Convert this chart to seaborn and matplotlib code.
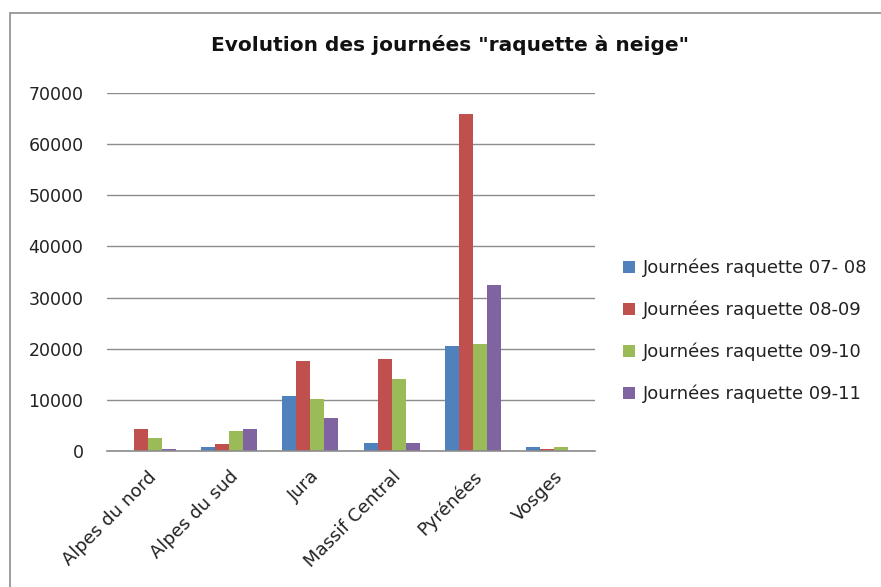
import matplotlib
matplotlib.use("Agg")
import matplotlib.pyplot as plt
import seaborn as sns
import pandas as pd
from matplotlib.patches import Rectangle

categories = ["Alpes du nord", "Alpes du sud", "Jura", "Massif Central", "Pyrénées", "Vosges"]
series_names = ["Journées raquette 07- 08", "Journées raquette 08-09",
                "Journées raquette 09-10", "Journées raquette 09-11"]
s0708 = [0, 850, 10750, 1650, 20600, 850]
s0809 = [4250, 1300, 17550, 17950, 65900, 450]
s0910 = [2600, 3850, 10250, 14150, 20900, 850]
s0911 = [450, 4250, 6450, 1650, 32450, 0]
colors = ["#4F81BD", "#C0504D", "#9BBB59", "#8064A2"]
yticks = [0, 10000, 20000, 30000, 40000, 50000, 60000, 70000]

rows = []
for name, vals in zip(series_names, [s0708, s0809, s0910, s0911]):
    for c, v in zip(categories, vals):
        rows.append({"region": c, "serie": name, "val": v})
df = pd.DataFrame(rows)

sns.set_theme(style="white")
plt.rcParams["font.family"] = ["DejaVu Sans"]

fig = plt.figure(figsize=(8.81, 5.87), dpi=100)
ax = fig.add_axes([107/881, 1-451/587, (595-107)/881, (451-93)/587])

sns.barplot(data=df, x="region", y="val", hue="serie", order=categories,
            hue_order=series_names, palette=colors, width=0.69,
            saturation=1, ax=ax, errorbar=None, edgecolor="none")

ax.set_ylim(0, 70000)
ax.set_yticks(yticks)
ax.set_yticklabels([str(t) for t in yticks], fontsize=12.5, color="#222222")
ax.tick_params(axis="y", length=0, pad=17)
ax.tick_params(axis="x", length=0, pad=12)
ax.set_xticks(range(len(categories)))
ax.set_xticklabels(categories, rotation=45, ha="right", rotation_mode="anchor",
                   fontsize=13, color="#222222")
ax.set_xlim(-0.5, 5.5)
ax.yaxis.grid(True, color="#8c8c8c", linewidth=1)
ax.set_axisbelow(True)
for s in ["left", "right", "top"]:
    ax.spines[s].set_visible(False)
ax.spines["bottom"].set_color("#8c8c8c")
ax.spines["bottom"].set_linewidth(1.2)
ax.set_xlabel("")
ax.set_ylabel("")

fig.text(450/881, 1-45/587, 'Evolution des journées "raquette à neige"',
         ha="center", va="center", fontsize=14.5, fontweight="bold", color="#111111")

leg = ax.legend(loc="center left", bbox_to_anchor=(1.024, 0.335), frameon=False,
                fontsize=13, handlelength=0.65, handleheight=0.65,
                handletextpad=0.45, labelspacing=1.3)
for t in leg.get_texts():
    t.set_color("#222222")

fig.patches.append(Rectangle((10/881, -0.1), 1.2, (1-13/587)+0.1,
                             transform=fig.transFigure, fill=False,
                             edgecolor="#8c8c8c", linewidth=1.2))

fig.savefig("out.png", dpi=100)
